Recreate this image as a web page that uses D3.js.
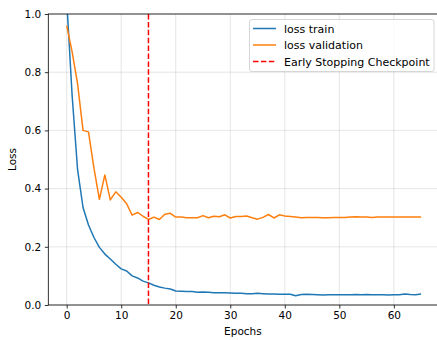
<!DOCTYPE html>
<html><head><meta charset="utf-8">
<script src="https://cdn.jsdelivr.net/npm/d3@7"></script>
<style>body{margin:0;background:#fff}svg{display:block}text{font-family:"DejaVu Sans",sans-serif;fill:#000}</style>
</head><body>
<svg id="c" width="437" height="340"></svg>
<script>
const epochs = d3.range(0, 66);
const lossTrain = [1.05,0.72,0.465,0.335,0.275,0.232,0.198,0.175,0.158,0.14,0.124,0.117,0.1,0.093,0.082,0.076,0.068,0.062,0.058,0.055,0.048,0.047,0.046,0.046,0.044,0.045,0.044,0.042,0.042,0.042,0.041,0.040,0.040,0.039,0.039,0.040,0.039,0.038,0.038,0.037,0.037,0.037,0.032,0.036,0.037,0.036,0.035,0.034,0.035,0.035,0.035,0.035,0.035,0.036,0.035,0.036,0.035,0.035,0.035,0.034,0.035,0.035,0.038,0.036,0.035,0.038];
const lossVal = [0.96,0.87,0.76,0.60,0.595,0.47,0.363,0.447,0.361,0.389,0.37,0.348,0.309,0.318,0.305,0.294,0.302,0.294,0.312,0.315,0.302,0.302,0.300,0.300,0.300,0.307,0.300,0.305,0.303,0.310,0.299,0.304,0.304,0.306,0.300,0.295,0.301,0.311,0.299,0.310,0.306,0.304,0.302,0.300,0.301,0.301,0.301,0.300,0.300,0.301,0.301,0.301,0.302,0.303,0.302,0.302,0.301,0.302,0.302,0.302,0.302,0.302,0.302,0.302,0.302,0.302];
const earlyStop = 15;
const xTicks = [0,10,20,30,40,50,60];
const yTicks = [0.0,0.2,0.4,0.6,0.8,1.0];
const seriesNames = ["loss train","loss validation","Early Stopping Checkpoint"];

const svg = d3.select("#c");
const L = 48.3, R = 439.5, T = 14, B = 305;
const x = d3.scaleLinear().domain([-3.37, 68.37]).range([L, R]);
const y = d3.scaleLinear().domain([0, 1]).range([B, T]);

svg.append("defs").append("clipPath").attr("id","clip")
  .append("rect").attr("x",L).attr("y",T).attr("width",R-L).attr("height",B-T);

// grid
const g = svg.append("g");
g.selectAll(".gx").data(xTicks).enter().append("line")
  .attr("x1",d=>x(d)).attr("x2",d=>x(d)).attr("y1",T).attr("y2",B)
  .attr("stroke","#b0b0b0").attr("stroke-opacity",0.4).attr("stroke-width",0.8);
g.selectAll(".gy").data(yTicks).enter().append("line")
  .attr("x1",L).attr("x2",R).attr("y1",d=>y(d)).attr("y2",d=>y(d))
  .attr("stroke","#b0b0b0").attr("stroke-opacity",0.4).attr("stroke-width",0.8);

const line = d3.line().x((d,i)=>x(epochs[i])).y(d=>y(d));
const plot = svg.append("g").attr("clip-path","url(#clip)");
plot.append("path").datum(lossTrain).attr("d",line).attr("fill","none")
  .attr("stroke","#1f77b4").attr("stroke-width",1.5).attr("stroke-linejoin","round");
plot.append("path").datum(lossVal).attr("d",line).attr("fill","none")
  .attr("stroke","#ff7f0e").attr("stroke-width",1.5).attr("stroke-linejoin","round");
plot.append("line").attr("x1",x(earlyStop)).attr("x2",x(earlyStop)).attr("y1",T).attr("y2",B)
  .attr("stroke","#ff0000").attr("stroke-width",1.5).attr("stroke-dasharray","5.5,2.4");

// axes
const xAxis = d3.axisBottom(x).tickValues(xTicks).tickSize(3.5).tickPadding(3.5).tickFormat(d3.format("d"));
const yAxis = d3.axisLeft(y).tickValues(yTicks).tickSize(3.5).tickPadding(3.5).tickFormat(d3.format(".1f"));
const gx = svg.append("g").attr("transform",`translate(0,${B})`).call(xAxis);
const gy = svg.append("g").attr("transform",`translate(${L},0)`).call(yAxis);
[gx,gy].forEach(a=>{
  a.select(".domain").remove();
  a.selectAll(".tick line").attr("stroke","#000").attr("stroke-width",0.8);
  a.selectAll(".tick text").attr("font-size",10.5).attr("font-family","DejaVu Sans").attr("fill","#000");
});

// spines
svg.append("rect").attr("x",L).attr("y",T).attr("width",R-L).attr("height",B-T)
  .attr("fill","none").attr("stroke","#000").attr("stroke-width",0.8);

// labels
svg.append("text").attr("x",(L+R)/2 - 1).attr("y",334.5).attr("text-anchor","middle")
  .attr("font-size",10.5).text("Epochs");
svg.append("text").attr("transform",`translate(16.3,${(T+B)/2}) rotate(-90)`).attr("text-anchor","middle")
  .attr("font-size",10.5).text("Loss");

// legend
const lg = svg.append("g");
lg.append("rect").attr("x",249.5).attr("y",19.5).attr("width",184.5).attr("height",52)
  .attr("rx",2.5).attr("fill","#fff").attr("fill-opacity",0.8).attr("stroke","#cccccc").attr("stroke-width",0.8);
const colors = ["#1f77b4","#ff7f0e","#ff0000"];
const dashes = [null,null,"5.5,2.4"];
const rowsY = [28.5,45,61.5];
seriesNames.forEach((n,i)=>{
  lg.append("line").attr("x1",253).attr("x2",276).attr("y1",rowsY[i]).attr("y2",rowsY[i])
    .attr("stroke",colors[i]).attr("stroke-width",1.5).attr("stroke-dasharray",dashes[i]);
  lg.append("text").attr("x",284).attr("y",rowsY[i]+4).attr("font-size",11).text(n);
});
</script>
</body></html>
